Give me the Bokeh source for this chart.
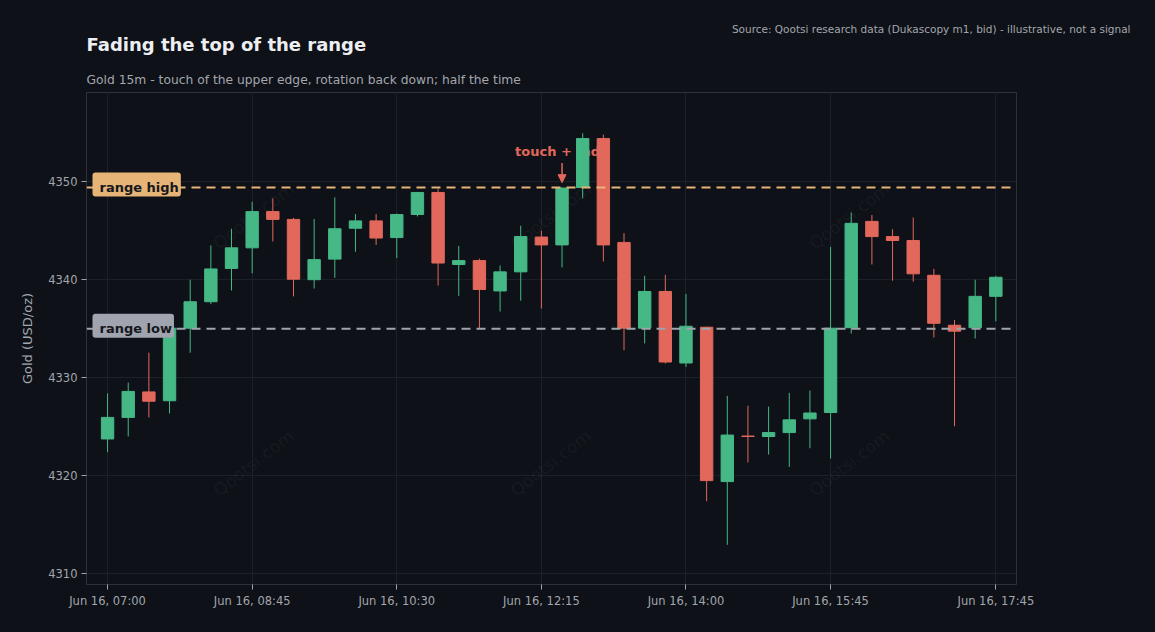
import pandas as pd
from bokeh.plotting import figure
from bokeh.models import (ColumnDataSource, Span, Label, Arrow, NormalHead,
                          FixedTicker, Range1d, Title)
from bokeh.core.properties import value
from bokeh.embed import file_html
from bokeh.resources import INLINE

# ---- data ----
times = pd.date_range("2025-06-16 07:00", periods=44, freq="15min")
open_ = [4323.75, 4325.95, 4328.55, 4327.65, 4335.05, 4337.75, 4341.15, 4343.25, 4346.95, 4346.15,
         4340.0, 4342.1, 4345.25, 4346.0, 4344.3, 4346.65, 4348.9, 4341.55, 4341.95, 4338.85,
         4340.8, 4344.35, 4343.55, 4349.4, 4354.4, 4343.8, 4335.05, 4338.8, 4331.5, 4335.15,
         4319.4, 4324.05, 4324.0, 4324.4, 4325.8, 4326.45, 4335.1, 4345.95, 4344.4, 4344.0,
         4340.45, 4335.35, 4335.1, 4338.3]
close = [4325.95, 4328.6, 4327.6, 4335.05, 4337.75, 4341.1, 4343.25, 4346.95, 4346.15, 4340.05,
         4342.05, 4345.2, 4346.0, 4344.25, 4346.65, 4348.9, 4341.7, 4341.95, 4339.0, 4340.8,
         4344.4, 4343.55, 4349.35, 4354.4, 4343.55, 4335.05, 4338.8, 4331.6, 4335.25, 4319.5,
         4324.15, 4324.0, 4324.4, 4325.7, 4326.4, 4335.05, 4345.75, 4344.4, 4344.0, 4340.6,
         4335.55, 4334.75, 4338.3, 4340.25]
high = [4328.4, 4329.5, 4332.55, 4335.6, 4340.0, 4343.5, 4345.2, 4347.95, 4348.3, 4346.3,
        4346.2, 4348.4, 4346.7, 4346.7, 4346.75, 4348.95, 4349.3, 4343.45, 4342.15, 4341.45,
        4345.5, 4345.0, 4349.4, 4354.95, 4354.8, 4344.75, 4340.4, 4340.5, 4338.55, 4335.2,
        4328.15, 4327.15, 4327.05, 4328.45, 4328.7, 4343.35, 4346.85, 4346.6, 4345.15, 4346.35,
        4341.1, 4335.9, 4340.0, 4340.4]
low = [4322.4, 4324.0, 4325.95, 4326.35, 4332.55, 4337.5, 4338.9, 4340.65, 4343.9, 4338.3,
       4339.1, 4340.2, 4342.85, 4343.55, 4342.2, 4346.45, 4339.4, 4338.35, 4335.05, 4336.75,
       4337.85, 4337.05, 4341.25, 4348.3, 4341.85, 4332.8, 4333.5, 4331.45, 4331.1, 4317.4,
       4312.95, 4321.35, 4322.15, 4320.9, 4322.8, 4321.75, 4334.5, 4341.55, 4339.9, 4339.8,
       4334.1, 4325.05, 4334.0, 4335.75]
range_high = 4349.4
range_low = 4335.0
touch_index = 22
tick_index = [0, 7, 14, 21, 28, 35, 43]
y_ticks = [4310, 4320, 4330, 4340, 4350]

title = "Fading the top of the range"
subtitle = "Gold 15m - touch of the upper edge, rotation back down; half the time"
source_text = "Source: Qootsi research data (Dukascopy m1, bid) - illustrative, not a signal"
watermark = "Qootsi.com"

# ---- style ----
BG = "#0e1117"
GREEN = "#45b886"
RED = "#e2685c"
GRID = "#1c2029"
AXIS = "#2c313a"
TXT = "#a2a6ae"
FONT = "DejaVu Sans"

n = len(open_)
idx = list(range(n))
colors = [GREEN if c >= o else RED for o, c in zip(open_, close)]
src = ColumnDataSource(dict(
    x=idx, open=open_, close=close, high=high, low=low,
    top=[max(o, c) for o, c in zip(open_, close)],
    bottom=[min(o, c) for o, c in zip(open_, close)],
    color=colors,
))

p = figure(width=1155, height=632, output_backend="svg", toolbar_location=None,
           x_range=Range1d(-1.02, 44.0), y_range=Range1d(4308.9, 4359.1),
           min_border_left=86, min_border_right=139, min_border_top=92, min_border_bottom=48,
           background_fill_color=BG, border_fill_color=BG)
p.outline_line_color = AXIS
p.outline_line_width = 1

# titles (stacked above the frame: first added is nearest the frame)
p.add_layout(Title(text=subtitle, text_font=FONT, text_font_size="12.3px",
                   text_font_style="normal", text_color=TXT, standoff=12, align="left"), "above")
p.add_layout(Title(text=title, text_font=FONT, text_font_size="18px",
                   text_font_style="bold", text_color="#eceef2", standoff=19, align="left"), "above")
p.add_layout(Title(text=source_text, text_font=FONT, text_font_size="10.5px",
                   text_font_style="normal", text_color=TXT, standoff=-24, align="right",
                   offset=-114), "above")

# grid
p.xgrid.grid_line_color = GRID
p.ygrid.grid_line_color = GRID
p.xaxis.ticker = FixedTicker(ticks=tick_index)
p.yaxis.ticker = FixedTicker(ticks=y_ticks)
p.xaxis.major_label_overrides = {i: times[i].strftime("%b %d, %H:%M") for i in tick_index}

for ax in (p.xaxis[0], p.yaxis[0]):
    ax.axis_line_color = AXIS
    ax.major_tick_line_color = TXT
    ax.major_tick_in = 0
    ax.major_tick_out = 5
    ax.minor_tick_line_color = None
    ax.major_label_text_color = TXT
    ax.major_label_text_font = FONT
    ax.major_label_text_font_size = "11.5px"
p.xaxis.major_label_standoff = 4
p.yaxis.major_label_standoff = 4
p.yaxis.axis_label = "Gold (USD/oz)"
p.yaxis.axis_label_text_color = TXT
p.yaxis.axis_label_text_font = FONT
p.yaxis.axis_label_text_font_style = "normal"
p.yaxis.axis_label_text_font_size = "13px"
p.yaxis.axis_label_standoff = 10

# watermarks (under candles)
wm_x = [7.07, 21.45, 35.9, 7.07, 21.45, 35.9]
wm_y = [4346.5, 4346.5, 4346.5, 4321.3, 4321.3, 4321.3]
p.text(x=wm_x, y=wm_y, text=[watermark] * 6, angle=0.66, text_align="center",
       text_baseline="middle", text_color="#9aa0aa", text_alpha=0.08,
       text_font=value(FONT), text_font_size="17px")

# annotation text (drawn under candles)
p.text(x=[touch_index], y=[4353.05], text=["touch + fade"], text_align="center",
       text_baseline="middle", text_color=RED, text_font=value(FONT),
       text_font_style="bold", text_font_size="13px")

# range lines
p.add_layout(Span(location=range_high, dimension="width", line_color="#e6b476",
                  line_dash="9 6", line_width=2))
p.add_layout(Span(location=range_low, dimension="width", line_color="#a0a4ac",
                  line_dash="9 6", line_width=2))

# candles
p.segment(x0="x", y0="high", x1="x", y1="low", source=src, line_color="color", line_width=1)
p.vbar(x="x", top="top", bottom="bottom", width=0.6, source=src,
       fill_color="color", line_color="color", line_width=1)

# arrow
p.add_layout(Arrow(x_start=touch_index, y_start=high[touch_index] + 2.5,
                   x_end=touch_index, y_end=high[touch_index] + 0.5,
                   line_color=RED, line_width=1.5,
                   end=NormalHead(size=8, fill_color=RED, line_color=RED)))

# range labels
for txt, yv, bg in (("range high", range_high, "#e6b476"), ("range low", range_low, "#a0a4ae")):
    p.add_layout(Label(x=6, x_units="screen", y=yv, y_offset=3, text=txt, text_baseline="middle",
                       text_align="left", text_font=FONT, text_font_style="bold",
                       text_font_size="13px", text_color="#16181d",
                       background_fill_color=bg, border_radius=3, padding=[7, 2, 7, 2]))

html = file_html(p, INLINE)
html = html.replace("<body>", f'<body style="background:{BG};">')
open("out.html", "w").write(html)
